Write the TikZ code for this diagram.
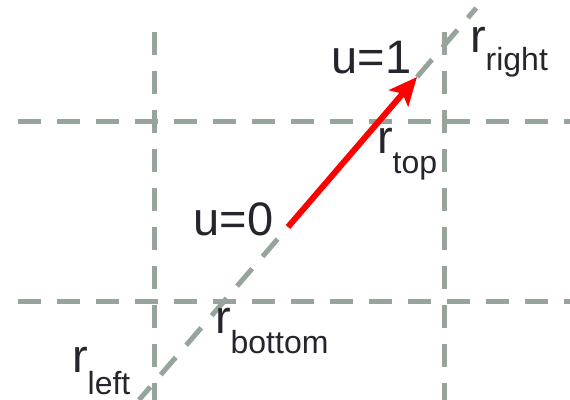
\documentclass[tikz,border=0pt]{standalone}
\usepackage{fontspec}
\setmainfont{Liberation Sans}
\usetikzlibrary{arrows.meta}
\definecolor{gridgray}{RGB}{150,164,155}
\definecolor{txt}{RGB}{37,37,45}
\definecolor{arrred}{RGB}{255,0,0}
\newcommand{\mainsz}{\fontsize{47}{47}\selectfont}
\newcommand{\subsz}{\fontsize{32}{32}\selectfont}
\newcommand{\rlab}[2]{{\mainsz r}\raisebox{-#2pt}{\subsz #1}}
\begin{document}
\begin{tikzpicture}[x=1pt,y=-1pt,
  gridline/.style={draw=gridgray,line width=5pt,dash pattern=on 23pt off 16pt},
  lab/.style={text=txt,inner sep=0pt,outer sep=0pt},
  vec/.style={draw=arrred,line width=6pt,-{Stealth[length=28pt,width=25pt,inset=6pt]}}]
\useasboundingbox (0,0) rectangle (570,399);
% grid
\coordinate (h1a) at (18,121.5);  \coordinate (h1b) at (575,121.5);
\coordinate (h2a) at (18,301);    \coordinate (h2b) at (575,301);
\coordinate (v1a) at (154.5,31.7); \coordinate (v1b) at (154.5,405);
\coordinate (v2a) at (444,31.7);   \coordinate (v2b) at (444,405);
\draw[gridline] (h1a) -- (h1b);
\draw[gridline] (h2a) -- (h2b);
\draw[gridline] (v1a) -- (v1b);
\draw[gridline] (v2a) -- (v2b);
% ray
\coordinate (u0) at (288,227);
\coordinate (u1) at (417,77);
\coordinate (dtop) at (476.3,8);
\coordinate (dbot) at (139,400);
\draw[gridline] (u1) -- (dtop);
\draw[gridline,dash phase=-16pt] (u0) -- (dbot);
\draw[vec] (u0) -- (u1);
% labels
\node[lab,anchor=base,font=\mainsz] (l0) at (233.5,235) {u=0};
\node[lab,anchor=base,font=\mainsz] (l1) at (371.5,73) {u=1};
\node[lab,anchor=base west] (rr) at (470,52) {\rlab{right}{18}};
\node[lab,anchor=base west] (rt) at (377,153) {\rlab{top}{20}};
\node[lab,anchor=base west] (rb) at (215,333) {\rlab{bottom}{20}};
\node[lab,anchor=base west] (rl) at (72,372) {\rlab{left}{22}};
\end{tikzpicture}
\end{document}
